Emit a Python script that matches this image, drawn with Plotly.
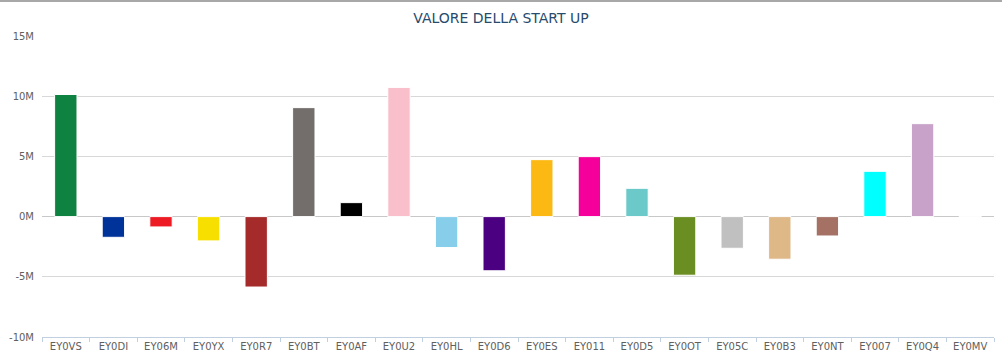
import plotly.graph_objects as go

categories = ["EY0VS", "EY0DI", "EY06M", "EY0YX", "EY0R7", "EY0BT", "EY0AF", "EY0U2",
              "EY0HL", "EY0D6", "EY0ES", "EY011", "EY0D5", "EY0OT", "EY05C", "EY0B3",
              "EY0NT", "EY007", "EY0Q4", "EY0MV"]
values_m = [10.14, -1.72, -0.86, -2.02, -5.85, 9.05, 1.16, 10.73,
            -2.57, -4.5, 4.73, 4.98, 2.35, -4.87, -2.63, -3.54,
            -1.61, 3.76, 7.72, -0.08]
colors = ["#0e8241", "#003399", "#ed1c24", "#f7e000", "#a52a2a", "#736e6c", "#000000", "#f9bfcb",
          "#87ceeb", "#4b0082", "#fdb913", "#f5009b", "#6bc9c9", "#6b8e23", "#c0c0c0", "#deb887",
          "#a57164", "#00ffff", "#c8a2c8", "#fcf4f4"]
y_tickvals = [15e6, 10e6, 5e6, 0, -5e6, -10e6]
y_ticktext = ["15M", "10M", "5M", "0M", "-5M", "-10M"]
title_text = "VALORE DELLA START UP"

values = [v * 1e6 for v in values_m]

fig = go.Figure(go.Bar(
    x=categories, y=values,
    marker=dict(color=colors, line=dict(color="#ffffff", width=1)),
    width=0.47,
    hoverinfo="x+y",
))

fig.update_layout(
    width=1002, height=355,
    margin=dict(l=42, r=8, t=36, b=18),
    paper_bgcolor="white", plot_bgcolor="white",
    showlegend=False,
    font=dict(family="DejaVu Sans", size=10, color="#606060"),
    title=dict(text=title_text, x=0.5, xanchor="center", y=1 - 18 / 355, yanchor="middle",
               font=dict(family="DejaVu Sans", size=14, color="#274b6d")),
    shapes=[dict(type="line", xref="paper", yref="paper",
                 x0=-42 / 952, x1=1 + 8 / 952, y0=1 + 35 / 301, y1=1 + 35 / 301,
                 line=dict(color="#a8a8a8", width=2))],
)
fig.update_xaxes(
    type="category", showgrid=False, tickson="boundaries", automargin=False,
    ticks="outside", ticklen=4, tickcolor="#c0d0e0",
    showline=True, linecolor="#c0d0e0", linewidth=1,
    tickfont=dict(size=10, color="#606060"),
)
fig.update_yaxes(
    range=[-10e6, 15e6], tickvals=y_tickvals, ticktext=y_ticktext, automargin=False,
    showgrid=True, gridcolor="#d8d8d8", gridwidth=1,
    zeroline=True, zerolinecolor="#c8c8c8", zerolinewidth=1,
    ticks="outside", ticklen=5, tickcolor="rgba(255,255,255,0)",
    tickfont=dict(size=10, color="#606060"),
)

fig.write_html("out.html", config={"displayModeBar": False},
               post_script="document.body.style.margin='0';")
